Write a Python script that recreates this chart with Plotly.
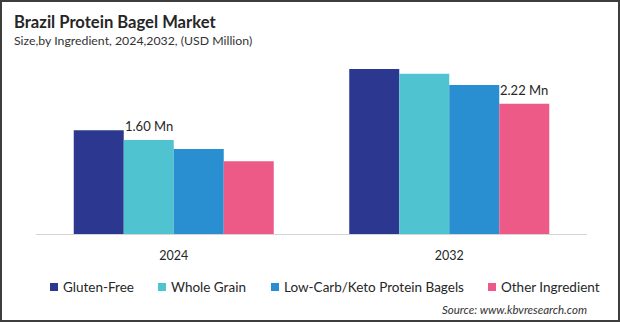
import plotly.graph_objects as go

# Market size by ingredient (USD Million)
years = ["2024", "2032"]
series_names = ["Gluten-Free", "Whole Grain", "Low-Carb/Keto Protein Bagels", "Other Ingredient"]
gluten_free = [1.77, 2.81]
whole_grain = [1.60, 2.73]
low_carb_keto = [1.45, 2.54]
other_ingredient = [1.24, 2.22]
colors = ["#2c388f", "#4fc3cf", "#2a8fd0", "#ee5a87"]

# value labels shown on selected bars: (series index, year index)
labelled = [(1, 0), (3, 1)]

W, H = 620, 322
L, R, T, B = 36, 33, 60, 88
plot_w = W - L - R
plot_h = H - T - B
bargap = 0.274
FONT = "Lato"

series = [gluten_free, whole_grain, low_carb_keto, other_ingredient]

fig = go.Figure()
for name, vals, col in zip(series_names, series, colors):
    fig.add_trace(go.Bar(x=years, y=vals, name=name, marker=dict(color=col, line=dict(width=0)),
                         showlegend=False, hoverinfo="x+y+name"))


def px_x(px):
    return (px - L) / plot_w


def px_y(py):
    return (H - B - py) / plot_h


# value annotations positioned on the grouped bar they describe
n = len(series)
bw = (1 - bargap) / n
annotations = []
for si, yi in labelled:
    xc = yi - (1 - bargap) / 2 + (si + 0.5) * bw
    annotations.append(dict(x=xc, y=series[si][yi], xref="x", yref="y",
                            text=f"{series[si][yi]:.2f} Mn", showarrow=False,
                            yanchor="bottom", yshift=4,
                            font=dict(family=FONT, size=13, color="#262626")))

# title and subtitle
annotations.append(dict(x=px_x(12), y=px_y(22), xref="paper", yref="paper", xanchor="left", yanchor="middle",
                        text="<b>Brazil Protein Bagel Market</b>", showarrow=False,
                        font=dict(family=FONT, size=16.6, color="#262626")))
annotations.append(dict(x=px_x(12), y=px_y(41), xref="paper", yref="paper", xanchor="left", yanchor="middle",
                        text="Size,by Ingredient, 2024,2032, (USD Million)", showarrow=False,
                        font=dict(family=FONT, size=12.3, color="#333333")))
# source note
annotations.append(dict(x=px_x(589), y=px_y(309), xref="paper", yref="paper", xanchor="right", yanchor="middle",
                        text="<i>Source: www.kbvresearch.com</i>", showarrow=False,
                        font=dict(family=FONT, size=11.5, color="#333333")))

# legend row: swatch + label
legend_x = [50, 158, 271, 488]
shapes = []
for name, col, lx in zip(series_names, colors, legend_x):
    shapes.append(dict(type="rect", xref="paper", yref="paper",
                       x0=px_x(lx), x1=px_x(lx + 8), y0=px_y(291), y1=px_y(283),
                       fillcolor=col, line=dict(width=0)))
    annotations.append(dict(x=px_x(lx + 11), y=px_y(287), xref="paper", yref="paper",
                            xanchor="left", yanchor="middle", text=name, showarrow=False,
                            font=dict(family=FONT, size=13.5, color="#262626")))

# outer frame
shapes.append(dict(type="rect", xref="paper", yref="paper",
                   x0=px_x(1), x1=px_x(W - 1), y0=px_y(H - 1), y1=px_y(1),
                   line=dict(color="#3d3d3d", width=2), fillcolor="rgba(0,0,0,0)", layer="above"))

fig.update_layout(
    width=W, height=H,
    margin=dict(l=L, r=R, t=T, b=B, pad=0),
    paper_bgcolor="white", plot_bgcolor="white",
    barmode="group", bargap=bargap, bargroupgap=0,
    showlegend=False,
    xaxis=dict(type="category", showline=True, linecolor="#d4d4d4", linewidth=1,
               showgrid=False, ticks="", ticklabelstandoff=10,
               tickfont=dict(family=FONT, size=12.5, color="#262626")),
    yaxis=dict(range=[0, 2.965], visible=False, showgrid=False, zeroline=False),
    annotations=annotations,
    shapes=shapes,
)

fig.write_html("out.html")
